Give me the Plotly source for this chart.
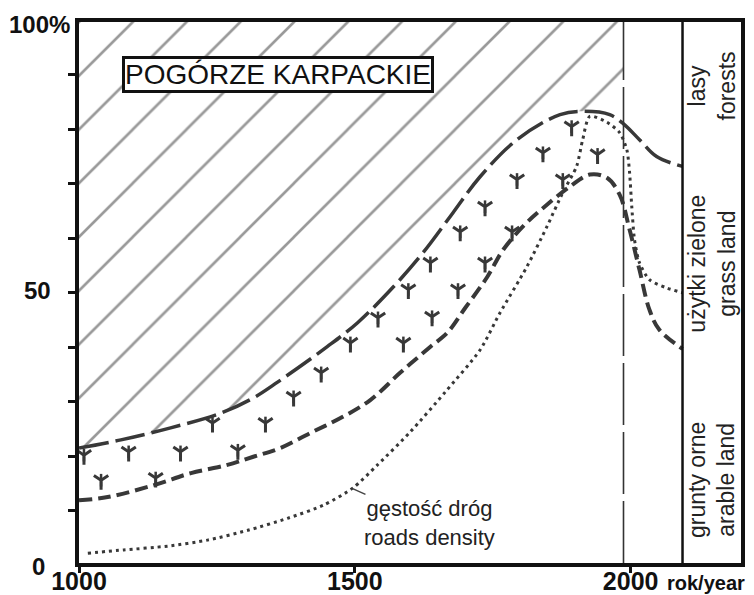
import plotly.graph_objects as go

# ---- data ----
# long-dash curve (upper boundary of grass land / lower edge of forests)
A_years = [1000, 1076, 1166, 1257, 1316, 1360, 1450, 1505, 1570, 1624, 1678, 1727, 1794,
           1872, 1917, 1962, 1987, 2016, 2047, 2094]
A_vals = [21.5, 23.0, 25.2, 27.9, 30.7, 33.6, 40.1, 44.5, 51.1, 57.4, 64.7, 71.3, 78.1,
          82.7, 83.3, 82.7, 81.0, 78.1, 75.0, 73.2]

# short-dash curve (arable land / grass land boundary)
B_years = [1000, 1052, 1136, 1203, 1269, 1316, 1365, 1420, 1474, 1528, 1582, 1637, 1667,
           1700, 1740, 1769, 1808, 1844, 1890, 1926, 1957, 1980, 1998, 2016, 2034, 2052, 2094]
B_vals = [11.9, 12.5, 14.7, 16.9, 18.4, 19.9, 21.5, 24.3, 27.0, 30.3, 35.3, 40.1, 42.6,
          47.2, 52.9, 57.9, 62.5, 65.8, 69.5, 71.7, 71.1, 68.0, 61.6, 54.2, 46.9, 43.2, 39.7]

# dotted curve (roads density)
C_years = [1016, 1081, 1161, 1233, 1306, 1378, 1443, 1497, 1541, 1600, 1664, 1727, 1763,
           1812, 1848, 1877, 1902, 1913, 1926, 1957, 1980, 1993, 1998, 2002, 2007, 2016,
           2034, 2065, 2094]
C_vals = [2.2, 2.8, 3.5, 4.6, 6.4, 8.6, 11.0, 14.2, 18.4, 24.4, 31.8, 39.5, 46.3,
          54.8, 62.1, 68.4, 73.2, 78.1, 82.4, 81.3, 79.4, 76.3, 72.1, 65.8, 59.7, 55.5,
          52.4, 50.9, 50.0]

# grass-land symbols
G_years = [1009, 1090, 1184, 1288, 1040, 1139, 1242, 1338, 1389, 1439, 1492, 1588, 1542,
           1640, 1597, 1687, 1637, 1736, 1691, 1785, 1736, 1794, 1877, 1841, 1940, 1893]
G_vals = [20.2, 20.8, 20.8, 21.1, 15.6, 16.0, 26.1, 26.1, 30.9, 35.3, 40.8, 40.8, 45.4,
          45.6, 50.6, 50.6, 55.5, 55.5, 61.2, 61.2, 65.8, 70.8, 70.8, 75.7, 75.4, 80.5]

DASH_YEAR = 1987      # vertical dashed line
PANEL_YEAR = 2094     # start of the label panel
X_RANGE = [1000, 2200]
x_ticks = [1000, 1500, 2000]
x_ticktext = ["1000", "1500", "2000"]
y_minor_ticks = [10, 20, 30, 40, 50, 60, 70, 80, 90]

FONT = "Liberation Sans, Arial, sans-serif"
INK = "#383838"

W, H = 754, 595
ML, MR, MT, MB = 79, 13, 22, 32
PW, PH = W - ML - MR, H - MT - MB


def px(x):
    return (x - ML) / PW


def py(y):
    return (H - MB - y) / PH


fig = go.Figure()

# hatched area above the long-dash curve (forests), up to the dashed line
hx = [x for x in A_years if x <= DASH_YEAR]
hy = A_vals[:len(hx)]
fig.add_trace(go.Scatter(x=[X_RANGE[0], DASH_YEAR], y=[100, 100], mode="lines",
                         line=dict(width=0), hoverinfo="skip"))
fig.add_trace(go.Scatter(x=hx, y=hy, mode="lines", line=dict(width=0, shape="spline"),
                         fill="tonexty", fillcolor="rgba(0,0,0,0)",
                         fillpattern=dict(shape="/", size=38, solidity=0.07,
                                          fgcolor="#333", bgcolor="rgba(0,0,0,0)",
                                          fillmode="overlay"),
                         hoverinfo="skip"))

# curves
fig.add_trace(go.Scatter(x=A_years, y=A_vals, mode="lines",
                         line=dict(color=INK, width=3.5, dash="30px,7px",
                                   shape="spline", smoothing=1.0)))
fig.add_trace(go.Scatter(x=B_years, y=B_vals, mode="lines",
                         line=dict(color=INK, width=4, dash="13px,6px",
                                   shape="spline", smoothing=1.0)))
fig.add_trace(go.Scatter(x=C_years, y=C_vals, mode="lines",
                         line=dict(color=INK, width=3, dash="3px,4px",
                                   shape="spline", smoothing=0.7)))

# grass symbols (tuft: fork plus central blade)
fig.add_trace(go.Scatter(x=G_years, y=G_vals, mode="markers",
                         marker=dict(symbol="y-down", size=12, color=INK,
                                     line=dict(color=INK, width=3))))
fig.add_trace(go.Scatter(x=G_years, y=G_vals, mode="markers",
                         marker=dict(symbol="line-ns", size=9, color=INK,
                                     line=dict(color=INK, width=2.5))))

# vertical lines
fig.add_shape(type="line", xref="x", yref="paper", x0=DASH_YEAR, x1=DASH_YEAR, y0=0, y1=1,
              line=dict(color="#333", width=1.6, dash="62px,7px"))
fig.add_shape(type="line", xref="x", yref="paper", x0=PANEL_YEAR, x1=PANEL_YEAR, y0=0, y1=1,
              line=dict(color="#111", width=2.5))

ann = []
# title box
ann.append(dict(x=1361, y=90, xref="x", yref="y", text="POGÓRZE KARPACKIE", showarrow=False,
                font=dict(family=FONT, size=28, color="#111"), bgcolor="white",
                bordercolor="#111", borderwidth=3, borderpad=0))
# y labels
ann.append(dict(x=px(72), y=py(24), xref="paper", yref="paper", text="100%", showarrow=False,
                xanchor="right", yanchor="middle",
                font=dict(family=FONT, size=24, color="#111", weight="bold")))
ann.append(dict(x=px(53), y=py(290), xref="paper", yref="paper", text="50", showarrow=False,
                xanchor="right", yanchor="middle",
                font=dict(family=FONT, size=24, color="#111", weight="bold")))
ann.append(dict(x=px(47), y=py(566), xref="paper", yref="paper", text="0", showarrow=False,
                xanchor="right", yanchor="middle",
                font=dict(family=FONT, size=24, color="#111", weight="bold")))
# x unit
ann.append(dict(x=px(665), y=py(583), xref="paper", yref="paper", text="rok/year",
                showarrow=False, xanchor="left", yanchor="middle",
                font=dict(family=FONT, size=20, color="#111", weight="bold")))
# right panel labels
panel_x = (PANEL_YEAR + X_RANGE[1]) / 2
for txt, yv in [("lasy<br>forests", 88), ("użytki zielone<br>grass land", 55.3),
                ("grunty orne<br>arable land", 15.6)]:
    ann.append(dict(x=panel_x, y=yv, xref="x", yref="y", text=txt, showarrow=False,
                    textangle=-90, align="center",
                    font=dict(family=FONT, size=23, color="#222")))
# roads density label (two lines, leader line to the dotted curve)
ann.append(dict(x=1497, y=14.0, xref="x", yref="y", text="gęstość dróg<br>roads density",
                showarrow=True, ax=76, ay=34, arrowhead=0, arrowwidth=1.5,
                arrowcolor="#444", align="center",
                font=dict(family=FONT, size=22, color="#222")))

fig.update_layout(
    width=W, height=H,
    margin=dict(l=ML, r=MR, t=MT, b=MB, pad=0),
    paper_bgcolor="white", plot_bgcolor="white",
    showlegend=False,
    annotations=ann,
    xaxis=dict(range=X_RANGE, showgrid=False, zeroline=False, showline=True,
               linewidth=4, linecolor="#111", mirror=True, automargin=False,
               ticks="outside", ticklen=6, tickwidth=3, tickcolor="#111",
               tickvals=x_ticks, ticktext=x_ticktext, ticklabelstandoff=-13,
               tickfont=dict(family=FONT, size=25, color="#111", weight="bold")),
    yaxis=dict(range=[0.4, 99.7], showgrid=False, zeroline=False, showline=True,
               linewidth=4, linecolor="#111", mirror=True, automargin=False,
               ticks="outside", ticklen=7, tickwidth=3, tickcolor="#111",
               tickvals=y_minor_ticks, showticklabels=False),
)

fig.write_html("out.html", config={"displayModeBar": False},
               post_script="document.body.style.margin='0';")
